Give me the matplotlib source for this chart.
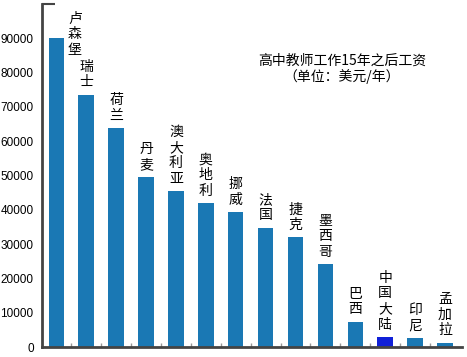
import matplotlib
matplotlib.use("Agg")
import matplotlib.pyplot as plt

plt.rcParams['font.family'] = ['Noto Sans CJK SC', 'DejaVu Sans']

# countries, top to bottom salary
countries = ["卢森堡", "瑞士", "荷兰", "丹麦", "澳大利亚", "奥地利", "挪威",
             "法国", "捷克", "墨西哥", "巴西", "中国大陆", "印尼", "孟加拉"]
salaries = [90000, 73600, 63800, 49600, 45400, 41900, 39300,
            34800, 32000, 24200, 7400, 3000, 2600, 1300]
y_ticks = [0, 10000, 20000, 30000, 40000, 50000, 60000, 70000, 80000, 90000]

bar_color = "#1a78b4"
china_color = "#1020d8"
colors = [china_color if c == "中国大陆" else bar_color for c in countries]

fig = plt.figure(figsize=(4.67, 3.57), dpi=100)
ax = fig.add_axes([42 / 467, 10 / 357, 420 / 467, 343 / 357])

x = list(range(len(countries)))
ax.bar(x, salaries, width=0.52, color=colors)

ax.set_xlim(-0.48, len(countries) - 1 + 0.57)
ax.set_ylim(0, 100000)

# stacked vertical labels above bars
for i, (name, val) in enumerate(zip(countries, salaries)):
    label = "\n".join(name)
    if i == 0:
        ax.text(i + 0.62, 97800, label, ha="center", va="top",
                fontsize=10, linespacing=1.15)
    else:
        ax.text(i, val + 1500, label, ha="center", va="bottom",
                fontsize=10, linespacing=1.15)

ax.text(0.714, 0.81, "高中教师工作15年之后工资\n（单位：美元/年）",
        transform=ax.transAxes, ha="center", va="center",
        fontsize=10, linespacing=1.1)

for s in ["top", "right"]:
    ax.spines[s].set_visible(False)
ax.spines["left"].set_color("#444444")
ax.spines["left"].set_linewidth(2)
ax.spines["bottom"].set_color("#444444")
ax.spines["bottom"].set_linewidth(2)

ax.set_yticks(y_ticks)
ax.set_yticklabels([str(v) for v in y_ticks], family="Liberation Sans", fontsize=8.5)
ax.tick_params(axis="y", length=0, pad=6)
ax.set_yticks([100000], minor=True)
ax.tick_params(axis="y", which="minor", direction="in", length=9, width=1.5, color="#444444")

ax.set_xticks([])
ax.set_xticks([i + 0.5 for i in range(len(countries) - 1)], minor=True)
ax.tick_params(axis="x", which="minor", direction="in", length=3, width=1, color="#999999")

fig.savefig("out.png", dpi=100)
